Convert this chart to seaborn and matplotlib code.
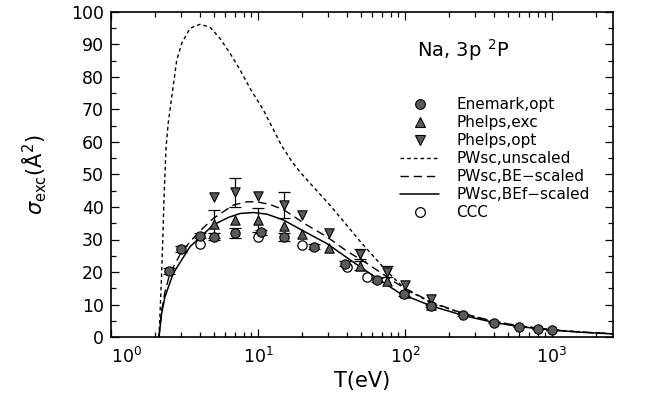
import numpy as np
import pandas as pd
import matplotlib
matplotlib.use("Agg")
import matplotlib.pyplot as plt
from matplotlib.lines import Line2D
from matplotlib.ticker import MultipleLocator, LogLocator, NullFormatter
import seaborn as sns

# ---------------- data ----------------
enemark_T = [2.5, 3.0, 4.0, 5.0, 7.0, 10.5, 15.0, 24.0, 39.0, 64.0, 99.0, 150.0, 247.0, 400.0, 600.0, 807.0, 995.0]
enemark_s = [20.3, 27.1, 31.2, 30.9, 32.1, 32.2, 30.7, 27.8, 22.5, 17.5, 13.2, 9.6, 6.7, 4.4, 3.2, 2.5, 2.15]
enemark_err = [0.8, 0.8, 0.8, 1.0, 1.5, 0.8, 1.2, 0.8, 0.8, 0.6, 0.5, 0.4, 0.3, 0.2, 0.2, 0.1, 0.1]

phexc_T = [5.0, 7.0, 10.0, 15.0, 20.0, 30.4, 49.5, 75.0, 100.0, 150.0]
phexc_s = [34.8, 36.0, 36.0, 34.2, 31.6, 27.5, 22.0, 17.2, 13.6, 9.8]
phexc_err = [4.3, 0.0, 3.6, 0.0, 0.0, 0.0, 1.5, 0.0, 0.0, 0.0]

phopt_T = [5.0, 7.0, 10.0, 15.0, 20.0, 30.4, 49.5, 75.0, 100.0, 150.0]
phopt_s = [43.0, 44.5, 43.5, 40.6, 37.5, 31.9, 25.6, 20.1, 16.0, 11.7]
phopt_err = [0.0, 4.5, 0.0, 4.0, 0.0, 0.0, 1.6, 1.6, 0.0, 0.0]

ccc_T = [4.0, 10.0, 20.0, 40.0, 55.5]
ccc_s = [28.6, 30.9, 28.3, 21.6, 18.4]

un_T = [2.12, 2.15, 2.2, 2.25, 2.3, 2.37, 2.45, 2.59, 2.8, 3.03, 3.45, 4.03, 4.72, 5.51, 6.45, 7.55,
        8.83, 10.9, 12.5, 14.5, 17.0, 19.3, 24.0, 30.0, 40.0, 50.0, 75.0, 100.0, 150.0, 250.0,
        400.0, 600.0, 1000.0, 1600.0, 2600.0]
un_s = [0.0, 6.0, 17.0, 30.0, 44.0, 58.6, 65.7, 73.9, 85.2, 90.4, 95.0, 96.2, 95.3, 91.9, 87.3, 82.2,
        76.5, 69.8, 64.5, 58.8, 54.0, 50.8, 46.0, 41.2, 34.5, 29.2, 20.3, 14.8, 10.6, 7.1,
        4.8, 3.4, 2.2, 1.5, 1.0]

be_T = [2.12, 2.21, 2.33, 2.52, 3.0, 3.45, 4.0, 4.97, 6.79, 8.4, 9.8, 12.0, 14.9, 21.4, 29.3, 40.0,
        54.9, 87.8, 100.0, 150.0, 250.0, 400.0, 600.0, 1000.0, 1600.0, 2600.0]
be_s = [0.0, 8.0, 14.0, 19.6, 26.0, 29.3, 32.5, 36.5, 40.6, 41.6, 41.6, 40.8, 39.2, 34.5, 30.9, 26.5,
        22.7, 16.5, 15.0, 10.8, 7.2, 4.8, 3.4, 2.2, 1.5, 1.0]

bef_T = [2.12, 2.21, 2.33, 2.65, 3.45, 4.97, 6.3, 7.55, 9.3, 11.5, 14.9, 20.0, 29.3, 49.4, 92.5,
         150.0, 250.0, 400.0, 600.0, 1000.0, 1600.0, 2600.0]
bef_s = [0.0, 7.3, 12.4, 19.6, 27.8, 34.5, 36.8, 38.0, 38.3, 37.8, 36.0, 32.8, 28.8, 21.6, 13.4,
         9.6, 6.6, 4.5, 3.2, 2.1, 1.45, 0.95]

labels = ["Enemark,opt", "Phelps,exc", "Phelps,opt", "PWsc,unscaled",
          "PWsc,BE\u2212scaled", "PWsc,BEf\u2212scaled", "CCC"]

# ---------------- style ----------------
sns.set_style("ticks")
plt.rcParams["font.family"] = ["DejaVu Sans"]
plt.rcParams["mathtext.fontset"] = "dejavusans"
for key in ["text.color", "axes.labelcolor", "xtick.color", "ytick.color", "axes.edgecolor"]:
    plt.rcParams[key] = "black"

W, H = 663, 401
fig = plt.figure(figsize=(W / 100, H / 100), dpi=100)
ax = fig.add_axes([111 / W, 1 - 337 / H, (613 - 111) / W, (337 - 12) / H])

gray = "#5a5a5a"
lw = 1.0
ls_un = (0, (2.6, 2.2))
ls_be = (0, (6, 3.5))

sns.lineplot(x=un_T, y=un_s, ax=ax, color="black", lw=lw, sort=False, linestyle=ls_un)
sns.lineplot(x=be_T, y=be_s, ax=ax, color="black", lw=lw, sort=False, linestyle=ls_be)
sns.lineplot(x=bef_T, y=bef_s, ax=ax, color="black", lw=1.1, sort=False)


def errs(T, s, e):
    T = np.array(T); s = np.array(s); e = np.array(e)
    m = e > 0
    ax.errorbar(T[m], s[m], yerr=e[m], fmt="none", ecolor="black", elinewidth=0.9,
                capsize=4, capthick=0.9, zorder=2)


errs(enemark_T, enemark_s, enemark_err)
errs(phexc_T, phexc_s, phexc_err)
errs(phopt_T, phopt_s, phopt_err)

ms = 45
sns.scatterplot(x=phexc_T, y=phexc_s, ax=ax, marker="^", s=ms, color=gray,
                edgecolor="black", linewidth=0.8, zorder=3)
sns.scatterplot(x=phopt_T, y=phopt_s, ax=ax, marker="v", s=ms, color=gray,
                edgecolor="black", linewidth=0.8, zorder=3)
sns.scatterplot(x=ccc_T, y=ccc_s, ax=ax, marker="o", s=ms, color="white",
                edgecolor="black", linewidth=0.9, zorder=3)
sns.scatterplot(x=enemark_T, y=enemark_s, ax=ax, marker="o", s=ms, color=gray,
                edgecolor="black", linewidth=0.8, zorder=4)

ax.set_xscale("log")
ax.set_xlim(1, 2600)
ax.set_ylim(0, 100)
ax.yaxis.set_major_locator(MultipleLocator(10))
ax.yaxis.set_minor_locator(MultipleLocator(5))
ax.xaxis.set_major_locator(LogLocator(base=10, numticks=10))
ax.xaxis.set_minor_locator(LogLocator(base=10, subs=np.arange(2, 10), numticks=20))
ax.xaxis.set_minor_formatter(NullFormatter())

for s in ax.spines.values():
    s.set_linewidth(1.2)
    s.set_color("black")
    s.set_visible(True)
ax.tick_params(which="both", direction="in", top=True, right=True, width=0.9, colors="black")
ax.tick_params(which="major", length=6, labelsize=12.5)
ax.tick_params(axis="x", which="major", pad=7)
ax.tick_params(axis="y", which="major", pad=5)
ax.tick_params(which="minor", length=3.5)

ax.set_xlabel("T(eV)", fontsize=15, labelpad=3)
ax.set_ylabel(r"$\sigma_{\rm exc}$(Å$^2$)", fontsize=15, labelpad=16)

# first x tick label sits to the right of its tick, as in the reference
fig.canvas.draw()
for t in ax.xaxis.get_major_ticks():
    if abs(t.get_loc() - 1.0) < 1e-9:
        t.label1.set_horizontalalignment("left")

ax.text(0.61, 0.863, r"Na, 3p $^2$P", transform=ax.transAxes, fontsize=14,
        ha="left", va="baseline")

handles = [
    Line2D([], [], ls="none", marker="o", ms=7, mfc=gray, mec="black", mew=0.8),
    Line2D([], [], ls="none", marker="^", ms=7, mfc=gray, mec="black", mew=0.8),
    Line2D([], [], ls="none", marker="v", ms=7, mfc=gray, mec="black", mew=0.8),
    Line2D([], [], color="black", lw=lw, linestyle=ls_un),
    Line2D([], [], color="black", lw=lw, linestyle=ls_be),
    Line2D([], [], color="black", lw=1.1),
    Line2D([], [], ls="none", marker="o", ms=7, mfc="white", mec="black", mew=0.9),
]
leg = ax.legend(handles, labels, loc="upper left", bbox_to_anchor=(0.563, 0.757),
                frameon=False, fontsize=11, labelspacing=0.2, handlelength=2.6,
                handletextpad=1.1, borderaxespad=0)

fig.savefig("out.png", dpi=100)
